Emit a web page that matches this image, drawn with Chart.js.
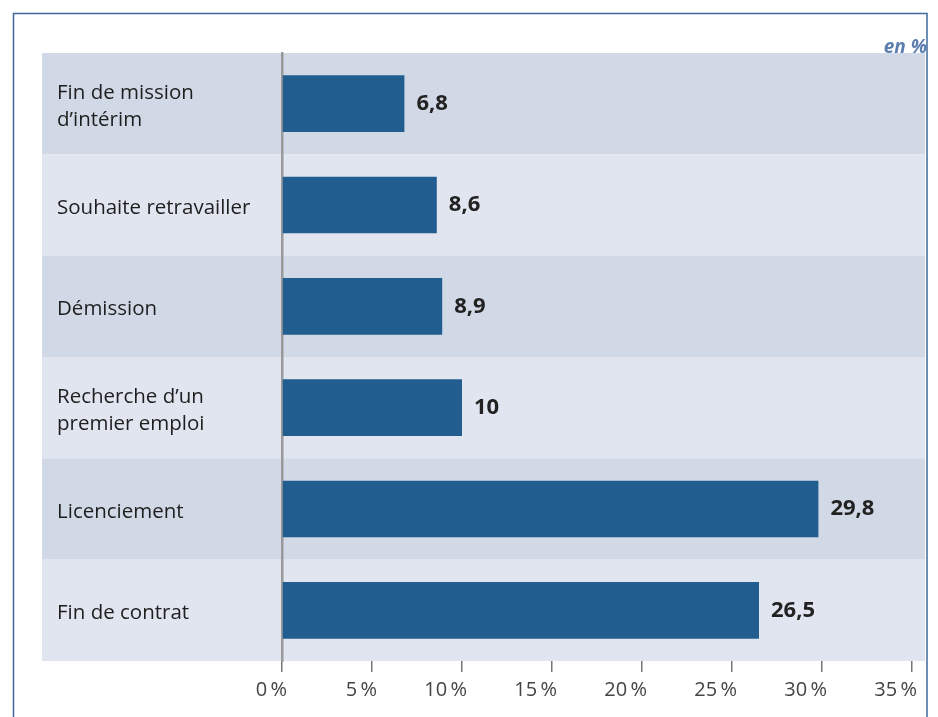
<!DOCTYPE html>
<html>
<head>
<meta charset="utf-8">
<script src="https://cdn.jsdelivr.net/npm/chart.js@4"></script>
<style>
  body { margin: 0; background: #fff; }
  #wrap { width: 938px; height: 717px; position: relative; }
</style>
</head>
<body>
<div id="wrap"><canvas id="chart" width="938" height="717"></canvas></div>
<script>
const categories = [
  ["Fin de mission", "d\u2019intérim"],
  "Souhaite retravailler",
  "Démission",
  ["Recherche d\u2019un", "premier emploi"],
  "Licenciement",
  "Fin de contrat"
];
const values = [6.8, 8.6, 8.9, 10, 29.8, 26.5];
const tickValues = [0, 5, 10, 15, 20, 25, 30, 35];

const bandDark = "#d1d9e7";
const bandLight = "#e0e5f0";

// frame, background bands, value labels, unit
const decorations = {
  id: "decorations",
  beforeDraw(chart) {
    const ctx = chart.ctx;
    const area = chart.chartArea;
    const y = chart.scales.y;
    const half = (y.getPixelForValue(1) - y.getPixelForValue(0)) / 2;
    ctx.save();
    categories.forEach((c, i) => {
      const cy = y.getPixelForValue(i);
      ctx.fillStyle = i % 2 === 0 ? bandDark : bandLight;
      ctx.fillRect(42, cy - half, area.right - 42, half * 2);
    });
    // frame
    ctx.strokeStyle = "#3d6a9b";
    ctx.lineWidth = 1.5;
    ctx.beginPath();
    ctx.moveTo(13.5, 717);
    ctx.lineTo(13.5, 13.5);
    ctx.lineTo(927, 13.5);
    ctx.lineTo(927, 717);
    ctx.stroke();
    // unit
    ctx.fillStyle = "#5b7db0";
    ctx.font = "italic bold 19px 'Open Sans'";
    ctx.textAlign = "right";
    ctx.textBaseline = "alphabetic";
    ctx.fillText("en %", 927, 53);
    ctx.restore();
  },
  afterDatasetsDraw(chart) {
    const ctx = chart.ctx;
    const meta = chart.getDatasetMeta(0);
    ctx.save();
    ctx.fillStyle = "#222";
    ctx.font = "bold 22px 'Open Sans'";
    ctx.textAlign = "left";
    ctx.textBaseline = "middle";
    meta.data.forEach((bar, i) => {
      ctx.fillText(String(values[i]).replace(".", ","), bar.x + 12, bar.y);
    });
    ctx.restore();
  }
};

new Chart(document.getElementById("chart"), {
  type: "bar",
  data: {
    labels: categories,
    datasets: [{
      data: values,
      backgroundColor: "#215d8f",
      categoryPercentage: 1,
      barPercentage: 0.56
    }]
  },
  options: {
    indexAxis: "y",
    responsive: false,
    animation: false,
    layout: { padding: { left: 57, top: 53, right: 13, bottom: 0 } },
    plugins: { legend: { display: false }, tooltip: { enabled: false } },
    scales: {
      x: {
        min: 0,
        max: 643 / 18,
        afterBuildTicks(axis) { axis.ticks = tickValues.map(v => ({ value: v })); },
        afterFit(axis) { axis.height = 56; },
        grid: { drawOnChartArea: false, drawTicks: true, tickLength: 11, color: "#777", lineWidth: 1.5 },
        border: { display: false },
        ticks: {
          padding: 6,
          align: "end",
          labelOffset: 5,
          color: "#444",
          font: { family: "'Open Sans'", size: 20 },
          callback: v => v + "\u2009%"
        }
      },
      y: {
        afterFit(axis) { axis.width = 225; },
        grid: { display: false, drawTicks: false },
        border: { display: true, color: "#999", width: 2.5 },
        ticks: {
          crossAlign: "far",
          labelOffset: 3,
          color: "#1e1e1e",
          font: { family: "'Open Sans'", size: 20.5, lineHeight: 1.27 }
        }
      }
    }
  },
  plugins: [decorations]
});
</script>
</body>
</html>
